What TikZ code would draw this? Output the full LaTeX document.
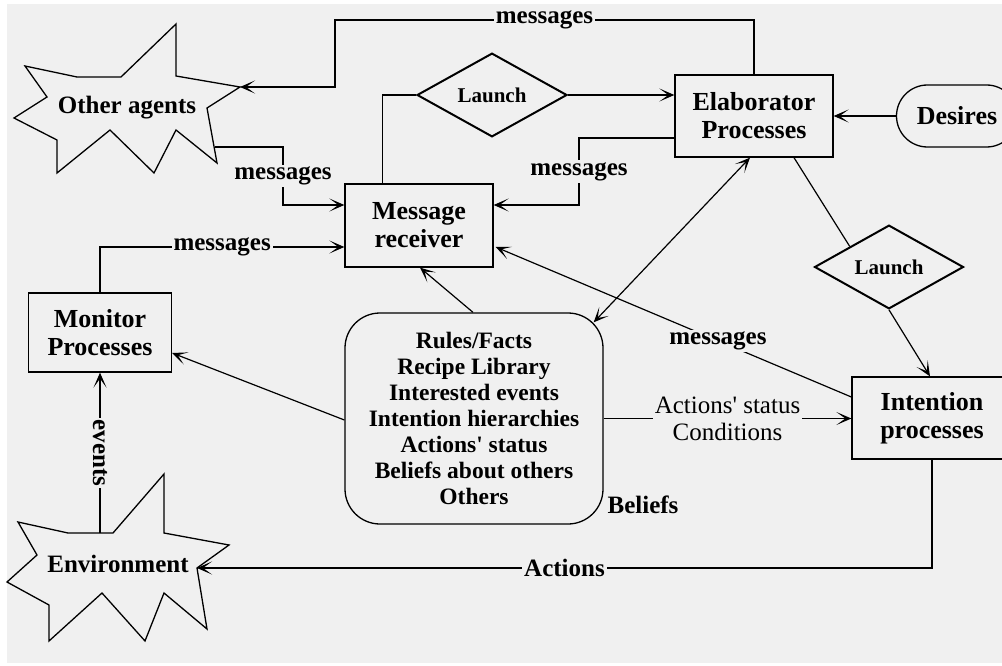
\documentclass[tikz,border=0pt]{standalone}
\usepackage{fontspec}
\setmainfont{Liberation Serif}
\usetikzlibrary{shapes.geometric, arrows.meta, calc}
\definecolor{bggray}{HTML}{F0F0F0}

\begin{document}
\begin{tikzpicture}[x=1pt, y=-1pt,
    box/.style={draw, line width=1.3pt, fill=bggray, align=center, inner sep=0pt,
      font=\bfseries\fontsize{26}{28}\selectfont},
    launch/.style={draw, diamond, line width=2pt, fill=bggray, inner sep=0pt,
      font=\bfseries\fontsize{21}{24}\selectfont},
    lbl/.style={fill=bggray, inner sep=2pt, font=\bfseries\fontsize{25}{27}\selectfont},
    arr/.style={-{Stealth[length=15pt, width=13pt, inset=9pt]}, line width=1.2pt},
    link/.style={line width=1.2pt},
    spiky/.style={line width=1.3pt}]
    % page and background
    \fill[white] (0,0) rectangle (1002,666);
    \fill[bggray] (7,4) rectangle (1002,663);
    \useasboundingbox (0,0) rectangle (1002,666);

    % Other agents
    \draw[spiky] (25,66) -- (77,77) -- (121,77) -- (176,24) -- (176,76) -- (240,87)
      -- (207,108) -- (217,163) -- (176,130) -- (154,173) -- (110,130) -- (57,173)
      -- (57,140) -- (14,118) -- (47,97) -- cycle;
    \node[font=\bfseries\fontsize{25}{27}\selectfont] (agents) at (127,108) {Other agents};
    \coordinate (agtip) at (240,87);
    \coordinate (agout) at (215,147);

    % Environment
    \draw[spiky] (18,522) -- (68,533) -- (113,533) -- (164,474) -- (164,533) -- (229,545)
      -- (197,568) -- (207,629) -- (164,593) -- (145,641) -- (102,593) -- (49,641)
      -- (49,605) -- (7,582) -- (37,555) -- cycle;
    \node[font=\bfseries\fontsize{25}{27}\selectfont] (env) at (118,564) {Environment};
    \coordinate (envtip) at (197,568);
    \coordinate (envtop) at (100,533);

    % Processes and stores
    \node[box, minimum width=143, minimum height=79] (monitor) at (100,332.5) {Monitor\\Processes};
    \node[box, minimum width=148, minimum height=83] (mrecv) at (419,225.5) {Message\\receiver};
    \node[box, minimum width=158, minimum height=82] (elab) at (754,116) {Elaborator\\Processes};
    \node[box, minimum width=160, minimum height=82] (intent) at (932,418) {Intention\\processes};
    \node[box, rounded corners=31pt, minimum width=121, minimum height=62] (desires) at (957,116) {Desires};
    \node[box, rounded corners=35pt, minimum width=258, minimum height=211,
      font=\bfseries\fontsize{23.5}{26}\selectfont] (beliefs) at (474,418.5)
      {Rules/Facts\\Recipe Library\\Interested events\\Intention hierarchies\\Actions\textquotesingle{} status\\Beliefs about others\\Others};
    \node[font=\bfseries\fontsize{25}{27}\selectfont] (blabel) at (643,505) {Beliefs};
    \node[launch, minimum width=150, minimum height=74] (launcha) at (492,95) {Launch};
    \node[launch, minimum width=149, minimum height=66] (launchb) at (889,267) {Launch};

    % messages
    \draw[arr] (elab.north) |- node[lbl, pos=0.75] {messages} (335,20) -- (335,87) -- (agtip);
    \draw[arr] (agout) -- (283,147) -- node[lbl] {messages} (283,205) -- ($(mrecv.west)+(0,-20.5)$);
    \draw[arr] (monitor.north) |- node[lbl, pos=0.75] {messages} ($(mrecv.west)+(0,21.5)$);
    \draw[arr] ($(elab.west)+(0,22)$) -- (579,138) -- node[lbl] {messages} (579,205) -- ($(mrecv.east)+(0,-20.5)$);
    \draw[arr] ($(intent.west)+(0,-21)$) -- node[lbl, pos=0.375] {messages} ($(mrecv.east)+(2,21.5)$);

    % launching
    \draw[link] ($(mrecv.north west)+(38,0)$) |- (launcha.west);
    \draw[arr] (launcha.east) -- (launcha.east -| elab.west);
    \draw[link] ($(elab.south)+(40,0)$) -- ($(launchb.west)!0.48!(launchb.north)$);
    \draw[arr] (launchb.south) -- ($(intent.north)+(-2,0)$);
    \draw[arr] (desires.west) -- (elab.east);

    % beliefs
    \draw[arr] ($(beliefs.north)+(-1,0)$) -- ($(mrecv.south)+(1,0)$);
    \draw[arr] ($(beliefs.west)+(0,1.5)$) -- ($(monitor.east)+(0,20.5)$);
    \draw[{Stealth[length=15pt, width=13pt, inset=9pt]}-{Stealth[length=15pt, width=13pt, inset=9pt]}, line width=1.2pt]
      ($(beliefs.north east)+(-10,10)$) -- ($(elab.south)+(-4,0)$);
    \draw[arr] (beliefs.east) -- node[lbl, align=center, font=\fontsize{25}{27}\selectfont] {Actions\textquotesingle{} status\\Conditions} (beliefs.east -| intent.west);

    % environment
    \draw[arr] (intent.south) |- node[lbl, pos=0.75] {Actions} (envtip);
    \draw[arr] (envtop) -- node[lbl, rotate=-90] {events} (monitor.south);
  \end{tikzpicture}
\end{document}
